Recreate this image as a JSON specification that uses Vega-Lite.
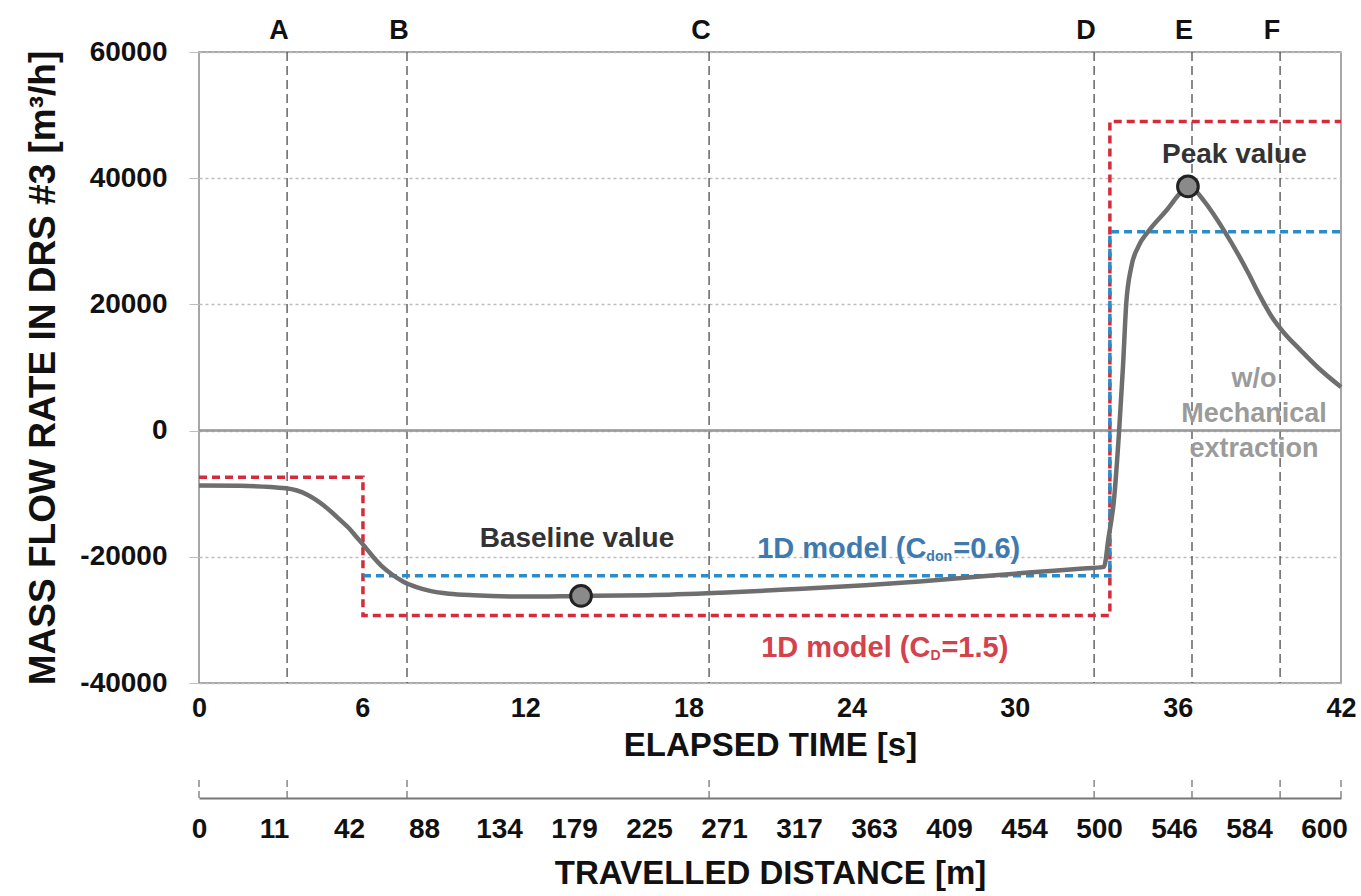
{
  "$schema": "https://vega.github.io/schema/vega-lite/v6.json",
  "background": "white",
  "padding": {"left": 24, "top": 16, "right": 10, "bottom": 5},
  "config": {"font": "Liberation Sans", "view": {"stroke": null}, "concat": {"spacing": 14}},
  "datasets": {
    "flow": [
      {"t": 0, "q": -8700}, {"t": 1.5, "q": -8750}, {"t": 3.2, "q": -9150}, {"t": 4.0, "q": -10200},
      {"t": 4.6, "q": -11900}, {"t": 5.2, "q": -14200}, {"t": 5.5, "q": -15400}, {"t": 5.8, "q": -16900},
      {"t": 6.1, "q": -18400}, {"t": 6.4, "q": -20000}, {"t": 6.7, "q": -21400}, {"t": 7.1, "q": -22800},
      {"t": 7.5, "q": -23900}, {"t": 8.0, "q": -24800}, {"t": 8.5, "q": -25400}, {"t": 9.2, "q": -25850},
      {"t": 10.1, "q": -26100}, {"t": 12.0, "q": -26300},
      {"t": 14.0, "q": -26200}, {"t": 16.5, "q": -26100}, {"t": 19.2, "q": -25700}, {"t": 22.0, "q": -25100},
      {"t": 24.5, "q": -24500}, {"t": 26.5, "q": -23900}, {"t": 28.5, "q": -23200}, {"t": 30.5, "q": -22500},
      {"t": 32.4, "q": -21900}, {"t": 33.28, "q": -21600}, {"t": 33.45, "q": -17000}, {"t": 33.65, "q": -11000},
      {"t": 33.84, "q": 0}, {"t": 33.98, "q": 10000}, {"t": 34.1, "q": 20000}, {"t": 34.28, "q": 25800},
      {"t": 34.55, "q": 29200}, {"t": 34.9, "q": 31500}, {"t": 35.6, "q": 35000}, {"t": 36.1, "q": 37700},
      {"t": 36.37, "q": 38700}, {"t": 36.6, "q": 38200}, {"t": 36.96, "q": 36400}, {"t": 37.7, "q": 31700},
      {"t": 38.6, "q": 24900}, {"t": 39.0, "q": 21500}, {"t": 39.43, "q": 18200}, {"t": 39.9, "q": 15500},
      {"t": 40.5, "q": 12800}, {"t": 41.15, "q": 10000}, {"t": 42, "q": 6900}
    ],
    "cd": [
      {"i": 0, "t": 0, "q": -7400}, {"i": 1, "t": 6.03, "q": -7400}, {"i": 2, "t": 6.03, "q": -29300},
      {"i": 3, "t": 33.5, "q": -29300}, {"i": 4, "t": 33.5, "q": 49000}, {"i": 5, "t": 42, "q": 49000}
    ],
    "cdon": [
      {"i": 0, "t": 6.03, "q": -23000}, {"i": 1, "t": 33.5, "q": -23000}, {"i": 2, "t": 33.5, "q": 31500},
      {"i": 3, "t": 42, "q": 31500}
    ],
    "events": [
      {"t": 3.24, "e": "A"}, {"t": 7.65, "e": "B"}, {"t": 18.76, "e": "C"},
      {"t": 32.92, "e": "D"}, {"t": 36.52, "e": "E"}, {"t": 39.76, "e": "F"}
    ],
    "dticks": [
      {"t": 0}, {"t": 3.24}, {"t": 7.65}, {"t": 18.76}, {"t": 32.92}, {"t": 36.52}, {"t": 39.76}, {"t": 42}
    ],
    "dist": [
      {"d": "0"}, {"d": "11"}, {"d": "42"}, {"d": "88"}, {"d": "134"}, {"d": "179"}, {"d": "225"}, {"d": "271"},
      {"d": "317"}, {"d": "363"}, {"d": "409"}, {"d": "454"}, {"d": "500"}, {"d": "546"}, {"d": "584"}, {"d": "600"}
    ],
    "marks": [
      {"t": 14.05, "q": -26200, "k": "Baseline value"}, {"t": 36.37, "q": 38700, "k": "Peak value"}
    ],
    "notes": [
      {"t": 13.9, "q": -17100, "txt": "Baseline value"}, {"t": 38.08, "q": 43600, "txt": "Peak value"}
    ],
    "wo": [{"t": 38.8, "q": 8230, "txt": "w/o\nMechanical\nextraction"}],
    "bluenote": [{"t": 26.75, "q": -18700, "a": "1D model (C", "s": "don", "b": "=0.6)"}],
    "rednote": [{"t": 26.9, "q": -34400, "a": "1D model (C", "s": "D", "b": "=1.5)"}]
  },
  "vconcat": [
    {
      "width": 1142,
      "height": 631,
      "view": {"stroke": "#8a8a8a", "strokeWidth": 1.5},
      "layer": [
        {
          "data": {"name": "events"},
          "mark": {"type": "rule", "color": "#4d4d4d", "strokeWidth": 1.3, "strokeDash": [9, 5]},
          "encoding": {
            "x": {"field": "t", "type": "quantitative", "scale": {"domain": [0, 42], "nice": false},
              "axis": {"values": [0, 6, 12, 18, 24, 30, 36, 42], "title": "ELAPSED TIME [s]", "grid": false,
                "ticks": false, "domain": false, "labelFontSize": 27, "labelFontWeight": "bold", "labelColor": "#111",
                "labelPadding": 12, "labelFlush": false, "titleFontSize": 33, "titleFontWeight": "bold",
                "titleColor": "#111", "titlePadding": 8}}
          }
        },
        {
          "data": {"name": "cd"},
          "mark": {"type": "rule", "color": "#9a9a9a", "strokeWidth": 1.5},
          "encoding": {
            "y": {"datum": 0, "type": "quantitative", "scale": {"domain": [-40000, 60000], "nice": false},
              "axis": {"values": [-40000, -20000, 0, 20000, 40000, 60000],
                "labelExpr": "datum.value < 0 ? '-' + abs(datum.value) : '' + datum.value",
                "title": "MASS FLOW RATE IN DRS #3 [m³/h]", "grid": true, "gridColor": "#bdbdbd", "gridDash": [3, 3],
                "gridWidth": 1.5, "ticks": true, "tickSize": 10, "tickColor": "#bdbdbd", "domain": false,
                "labelFontSize": 28, "labelFontWeight": "bold", "labelColor": "#111", "labelPadding": 22,
                "titleFontSize": 37, "titleFontWeight": "bold", "titleColor": "#111", "titlePadding": 17}}
          }
        },
        {
          "data": {"name": "cd"},
          "mark": {"type": "line", "color": "#d62b3a", "strokeWidth": 3.5, "strokeDash": [8, 5]},
          "encoding": {
            "x": {"field": "t", "type": "quantitative"},
            "y": {"field": "q", "type": "quantitative"},
            "order": {"field": "i"}
          }
        },
        {
          "data": {"name": "cdon"},
          "mark": {"type": "line", "color": "#2a8cc8", "strokeWidth": 3.5, "strokeDash": [8, 5]},
          "encoding": {
            "x": {"field": "t", "type": "quantitative"},
            "y": {"field": "q", "type": "quantitative"},
            "order": {"field": "i"}
          }
        },
        {
          "data": {"name": "flow"},
          "mark": {"type": "line", "color": "#6e6e6e", "strokeWidth": 4.5, "interpolate": "monotone"},
          "encoding": {
            "x": {"field": "t", "type": "quantitative"},
            "y": {"field": "q", "type": "quantitative"}
          }
        },
        {
          "data": {"name": "marks"},
          "mark": {"type": "point", "filled": true, "fill": "#8a8a8a", "stroke": "#222222", "strokeWidth": 3, "size": 430, "opacity": 1},
          "encoding": {
            "x": {"field": "t", "type": "quantitative"},
            "y": {"field": "q", "type": "quantitative"}
          }
        },
        {
          "data": {"name": "events"},
          "mark": {"type": "text", "fontSize": 27, "fontWeight": "bold", "color": "#111", "dx": -8, "dy": -21, "baseline": "middle"},
          "encoding": {
            "x": {"field": "t", "type": "quantitative"},
            "y": {"datum": 60000},
            "text": {"field": "e"}
          }
        },
        {
          "data": {"name": "notes"},
          "mark": {"type": "text", "fontSize": 28, "fontWeight": "bold", "color": "#333", "baseline": "middle"},
          "encoding": {
            "x": {"field": "t", "type": "quantitative"},
            "y": {"field": "q", "type": "quantitative"},
            "text": {"field": "txt"}
          }
        },
        {
          "data": {"name": "wo"},
          "mark": {"type": "text", "fontSize": 27, "fontWeight": "bold", "color": "#9b9b9b", "baseline": "middle", "lineBreak": "\n", "lineHeight": 35},
          "encoding": {
            "x": {"field": "t", "type": "quantitative"},
            "y": {"field": "q", "type": "quantitative"},
            "text": {"field": "txt"}
          }
        },
        {
          "data": {"name": "bluenote"},
          "mark": {"type": "text", "fontSize": 29, "fontWeight": "bold", "color": "#3f7aae", "baseline": "middle", "align": "right"},
          "encoding": {"x": {"field": "t", "type": "quantitative"}, "y": {"field": "q", "type": "quantitative"}, "text": {"field": "a"}}
        },
        {
          "data": {"name": "bluenote"},
          "mark": {"type": "text", "fontSize": 14, "fontWeight": "bold", "color": "#3f7aae", "baseline": "middle", "align": "left", "dy": 8},
          "encoding": {"x": {"field": "t", "type": "quantitative"}, "y": {"field": "q", "type": "quantitative"}, "text": {"field": "s"}}
        },
        {
          "data": {"name": "bluenote"},
          "mark": {"type": "text", "fontSize": 29, "fontWeight": "bold", "color": "#3f7aae", "baseline": "middle", "align": "left", "dx": 27},
          "encoding": {"x": {"field": "t", "type": "quantitative"}, "y": {"field": "q", "type": "quantitative"}, "text": {"field": "b"}}
        },
        {
          "data": {"name": "rednote"},
          "mark": {"type": "text", "fontSize": 29, "fontWeight": "bold", "color": "#d4424c", "baseline": "middle", "align": "right"},
          "encoding": {"x": {"field": "t", "type": "quantitative"}, "y": {"field": "q", "type": "quantitative"}, "text": {"field": "a"}}
        },
        {
          "data": {"name": "rednote"},
          "mark": {"type": "text", "fontSize": 14, "fontWeight": "bold", "color": "#d4424c", "baseline": "middle", "align": "left", "dy": 8},
          "encoding": {"x": {"field": "t", "type": "quantitative"}, "y": {"field": "q", "type": "quantitative"}, "text": {"field": "s"}}
        },
        {
          "data": {"name": "rednote"},
          "mark": {"type": "text", "fontSize": 29, "fontWeight": "bold", "color": "#d4424c", "baseline": "middle", "align": "left", "dx": 11},
          "encoding": {"x": {"field": "t", "type": "quantitative"}, "y": {"field": "q", "type": "quantitative"}, "text": {"field": "b"}}
        }
      ]
    },
    {
      "width": 1142,
      "height": 20,
      "view": {"stroke": null},
      "resolve": {"scale": {"x": "independent"}},
      "layer": [
        {
          "data": {"name": "dticks"},
          "mark": {"type": "rule", "color": "#777777", "strokeWidth": 1.3, "strokeDash": [7, 4]},
          "encoding": {
            "x": {"field": "t", "type": "quantitative", "scale": {"domain": [0, 42], "nice": false}, "axis": null},
            "y": {"datum": 0, "type": "quantitative", "scale": {"domain": [0, 1]}, "axis": null},
            "y2": {"datum": 1}
          }
        },
        {
          "data": {"name": "dist"},
          "mark": {"type": "point", "opacity": 0},
          "encoding": {
            "x": {"field": "d", "type": "ordinal", "sort": null,
              "scale": {"type": "point", "padding": 0.113, "align": 0},
              "axis": {"title": "TRAVELLED DISTANCE [m]", "orient": "bottom", "ticks": false, "domain": true,
                "domainColor": "#777777", "domainWidth": 1.8, "labelAngle": 0, "labelFontSize": 28,
                "labelFontWeight": "bold", "labelColor": "#111", "labelPadding": 17, "titleFontSize": 33,
                "titleFontWeight": "bold", "titleColor": "#111", "titlePadding": 14}},
            "y": {"datum": 0, "type": "quantitative"}
          }
        }
      ]
    }
  ]
}
